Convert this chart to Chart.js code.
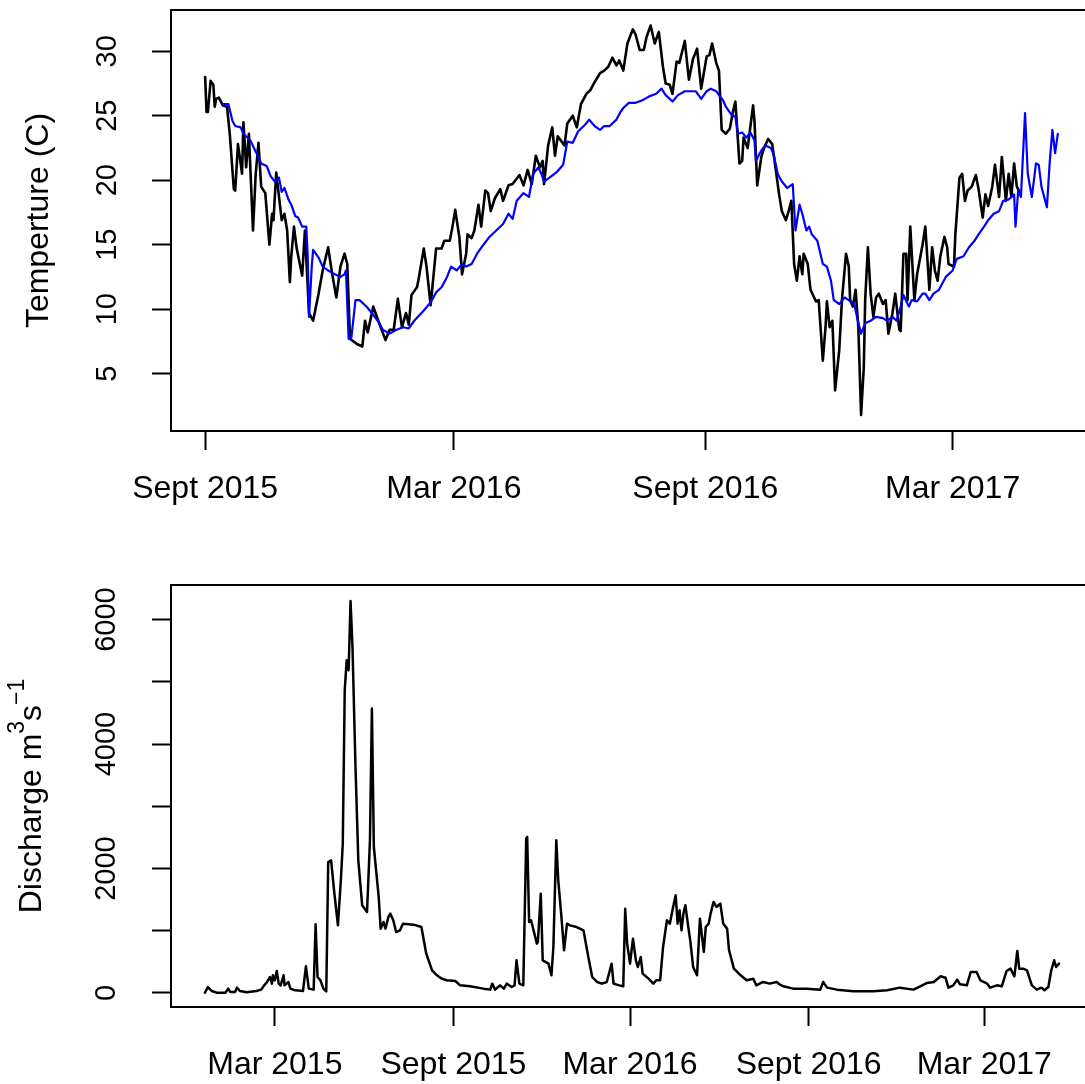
<!DOCTYPE html>
<html>
<head>
<meta charset="utf-8">
<script src="https://cdn.jsdelivr.net/npm/chart.js@4.4.1/dist/chart.umd.min.js"></script>
<style>
  html, body { margin: 0; padding: 0; background: #fff; overflow: hidden; }
  #wrap { position: relative; width: 1085px; height: 1084px; overflow: hidden; background: #fff; }
  canvas { position: absolute; left: 0; }
  #tempChart { top: 0; }
  #flowChart { top: 540px; }
</style>
</head>
<body>
<div id="wrap">
  <canvas id="tempChart" width="1100" height="540"></canvas>
  <canvas id="flowChart" width="1100" height="544"></canvas>
</div>
<script>
// All day numbers count from 1 Sept 2015 (day 0).

// ---- Temperature panel ----
const tempTickDays = [0, 182, 366, 547];
const tempTickLabels = ['Sept 2015', 'Mar 2016', 'Sept 2016', 'Mar 2017'];
const tempYTicks = [5, 10, 15, 20, 25, 30];

// black series
const tempADays = [0,1,2,4,6,7,8,10,13,16,18,21,22,24,27,28,30,32,35,37,39,41,44,47,49,50,52,56,58,60,62,63,65,67,71,73,76,79,83,86,90,93,96,99,102,104,106,111,115,117,119,123,127,132,135,138,141,144,147,149,151,155,156,160,162,165,169,173,175,179,181,183,186,188,191,192,195,197,200,202,205,207,209,212,216,218,222,225,230,233,236,239,242,245,247,248,251,254,256,258,263,265,269,272,275,279,282,285,289,292,295,298,301,303,306,309,313,315,318,321,323,326,329,332,335,337,340,342,345,347,351,354,357,360,363,367,369,371,374,376,378,381,384,386,388,391,393,394,397,401,402,404,407,409,412,415,418,420,422,425,427,429,431,433,435,437,438,441,443,447,449,452,454,455,457,459,461,464,466,469,471,472,474,476,478,480,482,483,485,487,489,491,493,496,498,500,503,505,508,509,511,513,514,516,519,521,525,527,530,532,534,536,538,541,543,544,548,549,552,554,556,558,561,564,566,569,571,573,576,578,581,583,586,588,590,592,594,597];
const tempAValues = [28.0,25.3,25.3,27.7,27.4,25.7,26.3,26.4,25.8,25.7,23.6,19.3,19.2,22.8,20.5,24.5,21.0,23.6,16.1,20.5,22.9,19.5,19.0,15.0,17.4,16.9,20.6,16.9,17.4,16.1,12.1,14.1,16.4,14.7,12.6,16.1,9.7,9.1,11.2,13.0,14.8,12.7,10.9,13.3,14.3,13.5,7.7,7.3,7.1,9.1,8.2,10.2,9.0,7.6,8.4,8.4,10.8,8.6,9.7,8.8,11.1,11.7,12.2,14.7,13.3,10.3,14.7,14.7,15.3,15.3,16.4,17.7,15.6,12.7,14.3,15.8,15.5,16.1,18.1,16.4,19.2,19.0,17.6,18.6,19.3,18.4,19.6,19.7,20.4,19.6,20.8,19.7,21.9,21.0,21.5,19.7,22.7,24.1,21.9,23.4,22.7,24.4,25.0,24.1,25.9,26.7,27.0,27.6,28.3,28.5,28.8,29.5,28.9,29.3,28.5,30.6,31.7,31.3,30.1,30.1,31.1,32.0,30.6,31.5,28.8,27.5,27.4,26.7,29.2,29.1,30.8,27.8,29.4,30.2,27.1,29.6,29.7,30.6,29.1,28.5,23.9,23.6,24.0,25.2,26.1,21.3,21.5,23.3,22.5,25.8,24.6,19.6,21.8,22.5,23.2,22.8,20.5,18.9,17.6,16.9,17.6,18.4,13.5,12.2,14.1,12.7,14.3,13.5,11.5,10.6,10.7,6.0,8.6,10.6,8.6,9.1,3.7,6.8,10.7,14.3,13.3,10.7,10.2,11.5,8.6,1.8,5.5,10.7,14.8,11.2,9.4,10.9,11.2,10.4,10.7,8.1,9.7,11.2,8.4,8.3,14.3,14.3,10.7,16.4,10.7,12.7,15.0,16.4,11.5,14.8,13.0,12.2,14.1,15.6,14.8,13.5,13.3,15.8,20.2,20.5,18.4,19.2,19.5,20.4,19.3,17.1,18.9,18.0,19.5,21.2,18.7,21.8,18.4,20.5,18.7,21.3,19.5,18.9];

// blue series
const tempBDays = [13,17,20,22,26,28,33,37,39,41,45,48,51,54,56,58,61,63,66,68,71,74,75,76,78,79,83,86,90,95,99,102,103,105,107,110,113,118,122,127,130,135,140,145,149,153,160,164,167,169,173,177,180,184,188,191,195,199,203,208,213,218,222,225,228,233,237,240,244,246,248,252,257,262,265,269,273,278,281,285,289,292,296,301,304,306,310,315,320,325,330,334,337,342,346,351,356,359,363,367,370,374,376,379,381,385,388,390,393,396,399,402,403,407,410,414,416,419,422,426,430,432,435,437,440,442,444,448,452,455,458,460,464,468,471,475,477,480,483,487,491,496,499,503,506,509,511,515,517,521,525,527,530,533,537,542,547,550,555,559,563,566,570,573,577,581,584,588,592,593,595,597,600,602,605,608,610,612,616,618,620,622,624];
const tempBValues = [25.9,25.9,24.6,24.2,24.1,23.6,23.1,22.2,21.8,21.3,21.1,20.3,19.9,20.2,19.1,19.4,18.5,18.1,17.2,17.1,16.4,16.4,14.3,9.4,13.3,14.6,14.0,13.3,13.0,12.7,12.5,12.7,13.0,7.7,7.8,10.7,10.7,10.2,9.7,9.0,8.4,8.1,8.4,8.6,8.5,9.1,9.9,10.4,10.9,11.3,11.7,12.5,13.3,13.0,13.5,13.3,13.5,14.3,14.9,15.6,16.1,16.6,17.4,17.0,18.4,19.0,18.7,20.5,21.0,20.5,19.9,20.2,20.6,21.2,23.0,22.9,23.8,24.3,24.7,24.2,23.9,24.2,24.2,24.7,25.3,25.6,26.0,26.0,26.2,26.5,26.7,27.1,26.6,26.1,26.6,26.9,26.9,26.9,26.3,26.9,27.1,26.9,26.6,26.2,25.7,25.1,24.9,23.6,23.7,23.3,23.7,23.1,21.5,22.3,22.7,22.5,22.0,20.5,19.9,19.4,19.7,16.1,18.1,17.4,16.1,16.4,15.8,15.3,13.5,13.3,12.2,10.7,10.4,10.9,10.7,10.4,9.4,8.1,8.9,9.1,9.4,9.3,9.1,9.4,9.1,10.2,11.1,10.2,10.7,10.6,11.2,11.2,10.7,11.2,11.5,12.5,13.0,13.9,14.1,14.8,15.3,15.8,16.4,16.9,17.4,17.6,18.4,18.5,18.9,16.4,19.2,18.7,25.2,20.5,18.7,21.3,21.2,19.5,17.9,21.3,23.9,22.1,23.6];

// ---- Discharge panel ----
const flowTickDays = [-184, 0, 182, 366, 547];
const flowTickLabels = ['Mar 2015', 'Sept 2015', 'Mar 2016', 'Sept 2016', 'Mar 2017'];
const flowYTicks = [0, 1000, 2000, 3000, 4000, 5000, 6000];
const flowYLabels = ['0', '', '2000', '', '4000', '', '6000'];

const flowDays = [-256,-253,-249,-244,-235,-232,-230,-225,-223,-220,-213,-203,-198,-195,-192,-189,-187,-186,-184,-182,-180,-178,-175,-174,-170,-168,-163,-155,-152,-149,-144,-142,-140,-137,-134,-131,-129,-126,-123,-119,-116,-114,-112,-110,-108,-106,-104,-101,-98,-94,-89,-86,-84,-82,-77,-75,-72,-70,-67,-65,-62,-59,-55,-52,-41,-33,-28,-22,-17,-12,-7,2,7,17,31,38,40,43,48,52,55,60,63,65,68,72,75,76,78,80,86,87,90,92,98,101,103,106,108,111,114,117,120,127,134,139,143,148,153,158,163,165,171,175,177,179,182,185,188,190,193,195,201,206,209,213,216,220,223,226,229,231,233,235,237,239,242,244,247,251,254,258,260,263,265,268,271,275,278,282,284,289,296,302,309,312,319,326,333,336,340,350,364,378,381,385,395,412,433,447,460,474,481,488,495,502,507,510,515,519,522,529,533,539,543,550,553,560,565,570,574,578,581,583,587,591,596,601,606,609,613,616,619,621,624];
const flowValues = [5,96,32,5,5,70,16,16,86,32,11,32,54,123,177,257,150,284,204,354,150,123,284,123,177,70,43,32,428,70,54,1103,257,204,70,27,2105,2132,1650,1087,1810,2400,4863,5345,5185,6299,5560,3685,2132,1409,1302,2453,4569,2346,1543,1034,1141,1034,1221,1275,1168,980,1007,1114,1098,1060,632,364,284,230,204,193,123,107,70,54,150,54,123,70,150,96,123,525,150,123,2480,2507,1141,1168,793,819,1596,525,471,284,739,2453,1810,1275,686,1114,1087,1060,1007,578,257,177,150,177,471,150,123,107,1355,793,471,873,525,418,578,311,230,150,204,204,739,1168,1114,1355,1569,1114,1328,1007,1275,1409,1060,846,418,284,1194,659,1060,1114,1275,1462,1382,1435,1114,1034,686,391,284,204,230,123,177,150,177,139,107,70,70,54,177,86,54,27,27,43,86,54,107,161,177,268,246,86,123,214,139,123,337,337,204,150,86,123,107,354,391,268,675,391,391,364,123,54,86,43,96,364,525,418,471];

const FONT = '"Liberation Sans", Arial, Helvetica, sans-serif';

function pairs(xs, ys) { return xs.map((x, i) => ({ x: x, y: ys[i] })); }

// closed box round the plotting region
const frame = {
  id: 'frame',
  afterDatasetsDraw(chart) {
    const { ctx, chartArea: a } = chart;
    ctx.save();
    ctx.strokeStyle = '#000';
    ctx.lineWidth = 2;
    ctx.strokeRect(a.left, a.top, a.right - a.left, a.bottom - a.top);
    ctx.restore();
  }
};

function xAxis(min, max, days, labels, height) {
  return {
    type: 'linear', min: min, max: max,
    afterBuildTicks: s => { s.ticks = days.map(v => ({ value: v })); },
    afterFit: s => { s.height = height; s.paddingLeft = 0; s.paddingRight = 0; },
    grid: { drawOnChartArea: false, drawTicks: true, tickLength: 19, tickWidth: 2, tickColor: '#000' },
    border: { display: false },
    ticks: {
      autoSkip: false, maxRotation: 0, minRotation: 0, padding: 20,
      color: '#000', font: { family: FONT, size: 32 },
      callback: (v, i) => labels[i]
    }
  };
}

function yAxis(min, max, values, labels, width, pad, title) {
  return {
    type: 'linear', min: min, max: max,
    afterBuildTicks: s => { s.ticks = values.map(v => ({ value: v })); },
    afterFit: s => { s.width = width; s.paddingTop = 0; s.paddingBottom = 0; },
    grid: { drawOnChartArea: false, drawTicks: true, tickLength: 19, tickWidth: 2, tickColor: '#000' },
    border: { display: false },
    ticks: {
      autoSkip: false, minRotation: 90, maxRotation: 90, crossAlign: 'center', padding: pad,
      color: '#000', font: { family: FONT, size: 29 },
      callback: (v, i) => labels[i]
    },
    title: title
  };
}

new Chart(document.getElementById('tempChart'), {
  type: 'line',
  data: {
    datasets: [
      { data: pairs(tempBDays, tempBValues), borderColor: '#0000ff', borderWidth: 2.2, order: 0 },
      { data: pairs(tempADays, tempAValues), borderColor: '#000000', borderWidth: 2.6, order: 1 }
    ]
  },
  options: {
    responsive: false, animation: false, devicePixelRatio: 1,
    parsing: false, normalized: true,
    layout: { padding: { top: 10, right: 8, left: 0, bottom: 0 } },
    elements: { point: { radius: 0 }, line: { tension: 0, borderJoinStyle: 'round', borderCapStyle: 'round' } },
    plugins: { legend: { display: false }, tooltip: { enabled: false } },
    scales: {
      x: xAxis(-25, 649, tempTickDays, tempTickLabels, 109),
      y: yAxis(0.55, 33.2, tempYTicks, tempYTicks.map(String), 171, 28, {
        display: true, text: 'Temperture (C)', color: '#000',
        font: { family: FONT, size: 32 }, padding: { top: 20, bottom: 0 }
      })
    }
  },
  plugins: [frame]
});

// y-axis caption with superscript units, drawn along the left edge
const flowTitle = {
  id: 'flowTitle',
  afterDraw(chart) {
    const { ctx, chartArea: a } = chart;
    const runs = [
      { t: 'Discharge m', size: 32, rise: 0 },
      { t: '3', size: 23, rise: 17 },
      { t: 's', size: 32, rise: 0 },
      { t: '\u22121', size: 23, rise: 17 }
    ];
    ctx.save();
    let total = 0;
    runs.forEach(r => { ctx.font = r.size + 'px ' + FONT; r.w = ctx.measureText(r.t).width; total += r.w; });
    ctx.translate(41, (a.top + a.bottom) / 2);
    ctx.rotate(-Math.PI / 2);
    ctx.fillStyle = '#000';
    ctx.textBaseline = 'alphabetic';
    ctx.textAlign = 'left';
    let x = -total / 2;
    runs.forEach(r => { ctx.font = r.size + 'px ' + FONT; ctx.fillText(r.t, x, -r.rise); x += r.w; });
    ctx.restore();
  }
};

new Chart(document.getElementById('flowChart'), {
  type: 'line',
  data: {
    datasets: [
      { data: pairs(flowDays, flowValues), borderColor: '#000000', borderWidth: 2.5 }
    ]
  },
  options: {
    responsive: false, animation: false, devicePixelRatio: 1,
    parsing: false, normalized: true,
    layout: { padding: { top: 45, right: 7, left: 0, bottom: 0 } },
    elements: { point: { radius: 0 }, line: { tension: 0, borderJoinStyle: 'round', borderCapStyle: 'round' } },
    plugins: { legend: { display: false }, tooltip: { enabled: false } },
    scales: {
      x: xAxis(-291, 659, flowTickDays, flowTickLabels, 77),
      y: yAxis(-225, 6555, flowYTicks, flowYLabels, 171, 13, { display: false })
    }
  },
  plugins: [frame, flowTitle]
});
</script>
</body>
</html>
